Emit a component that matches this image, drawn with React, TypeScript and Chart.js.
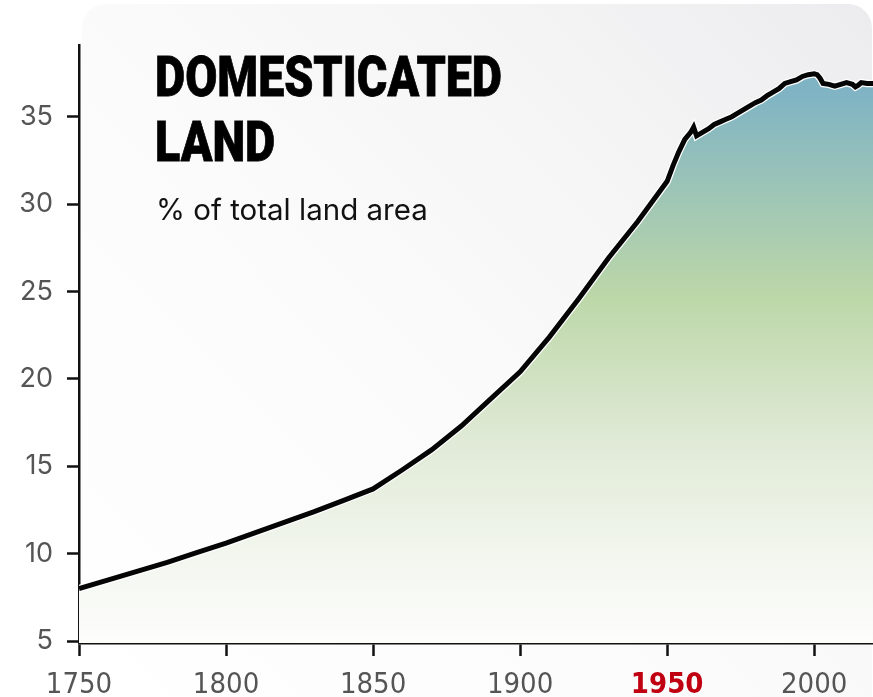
import React, { useEffect, useLayoutEffect, useRef } from "react";
import { Chart, registerables } from "chart.js";

Chart.register(...registerables);

const years = [
  1750, 1760, 1770, 1780, 1790, 1800, 1810, 1820, 1830, 1840, 1850, 1860, 1870,
  1880, 1890, 1900, 1910, 1920, 1930, 1940, 1950, 1952, 1954, 1956, 1958, 1959,
  1960, 1962, 1964, 1966, 1968, 1970, 1972, 1974, 1976, 1978, 1980, 1982, 1984,
  1986, 1988, 1990, 1992, 1994, 1996, 1998, 2000, 2001, 2002, 2003, 2005, 2007,
  2009, 2011, 2013, 2014, 2015, 2016, 2018, 2020,
];
const landShare = [
  8.0, 8.5, 9.0, 9.5, 10.05, 10.6, 11.2, 11.8, 12.4, 13.05, 13.7, 14.8, 15.95,
  17.3, 18.85, 20.4, 22.4, 24.6, 26.9, 29.0, 31.3, 32.2, 33.0, 33.7, 34.1, 34.4,
  33.9, 34.1, 34.3, 34.55, 34.7, 34.85, 35.0, 35.2, 35.4, 35.6, 35.8, 35.95, 36.2,
  36.4, 36.6, 36.9, 37.0, 37.1, 37.3, 37.4, 37.45, 37.4, 37.2, 36.9, 36.85, 36.75,
  36.85, 36.95, 36.85, 36.7, 36.8, 36.95, 36.9, 36.9,
];
const xTickYears = [1750, 1800, 1850, 1900, 1950, 2000];
const yTickValues = [5, 10, 15, 20, 25, 30, 35];
const highlightYear = 1950;
const titleLines = ["DOMESTICATED", "LAND"];
const subtitle = "% of total land area";

export default function App() {
  const canvasRef = useRef<HTMLCanvasElement>(null);
  const titleRef = useRef<HTMLDivElement>(null);
  const firstLineRef = useRef<HTMLSpanElement>(null);

  useLayoutEffect(() => {
    const t = titleRef.current;
    const f = firstLineRef.current;
    if (t && f) {
      const w = f.getBoundingClientRect().width;
      if (w > 0) t.style.transform = `scaleX(${347 / w})`;
    }
  }, []);

  useEffect(() => {
    document.body.style.margin = "0";
    const canvas = canvasRef.current;
    if (!canvas) return;
    const points = years.map((yr, i) => ({ x: yr, y: landShare[i] }));

    const chart = new Chart(canvas, {
      type: "line",
      data: {
        datasets: [
          {
            data: points,
            fill: false,
            borderColor: "#050505",
            borderWidth: 5,
            pointRadius: 0,
            tension: 0,
          },
          {
            data: points,
            fill: "start",
            borderColor: "#ffffff",
            borderWidth: 7.5,
            pointRadius: 0,
            tension: 0,
            backgroundColor: (c: any) => {
              const { ctx, chartArea } = c.chart;
              if (!chartArea) return "rgba(0,0,0,0)";
              const g = ctx.createLinearGradient(0, chartArea.top, 0, chartArea.bottom);
              g.addColorStop(0, "#7cb2c7");
              g.addColorStop(0.08, "#80b4c4");
              g.addColorStop(0.42, "#bcd7a8");
              g.addColorStop(0.66, "#e0ead6");
              g.addColorStop(0.85, "#f2f6ee");
              g.addColorStop(1, "#fdfdfc");
              return g;
            },
          },
        ],
      },
      options: {
        animation: false,
        responsive: false,
        maintainAspectRatio: false,
        layout: { padding: { top: 45, left: 0, right: 0, bottom: 0 } },
        plugins: { legend: { display: false }, tooltip: { enabled: false } },
        scales: {
          x: {
            type: "linear",
            min: 1750,
            max: 2020,
            afterBuildTicks: (s: any) => {
              s.ticks = xTickYears.map((v) => ({ value: v }));
            },
            afterFit: (s: any) => {
              s.height = 54;
            },
            border: { display: true, color: "#111", width: 2.5 },
            grid: {
              display: true,
              drawOnChartArea: false,
              drawTicks: true,
              tickLength: 13,
              tickColor: "#111",
              tickWidth: 2.5,
            },
            ticks: {
              padding: 12,
              maxRotation: 0,
              autoSkip: false,
              callback: (v: any) => String(v),
              color: (c: any) => (c.tick && c.tick.value === highlightYear ? "#c00010" : "#555555"),
              font: (c: any) => ({
                family: '"DejaVu Sans Condensed", sans-serif',
                size: 29,
                weight: c.tick && c.tick.value === highlightYear ? "bold" : "normal",
              }),
            },
          },
          y: {
            type: "linear",
            min: 4.886,
            max: 39.1,
            afterBuildTicks: (s: any) => {
              s.ticks = yTickValues.map((v) => ({ value: v }));
            },
            afterFit: (s: any) => {
              s.width = 79;
            },
            border: { display: true, color: "#111", width: 2.5 },
            grid: {
              display: true,
              drawOnChartArea: false,
              drawTicks: true,
              tickLength: 12,
              tickColor: "#111",
              tickWidth: 2.5,
            },
            ticks: {
              padding: 14,
              color: "#555555",
              font: { family: "Inter, sans-serif", size: 27 },
              callback: (v: any) => String(v),
            },
          },
        },
      },
    });
    return () => chart.destroy();
  }, []);

  return (
    <div style={{ position: "absolute", left: 0, top: 0, width: 873, height: 697, overflow: "hidden", background: "#ffffff" }}>
      <div
        style={{
          position: "absolute",
          left: 82,
          top: 4,
          width: 790,
          height: 720,
          borderRadius: 24,
          background: "linear-gradient(225deg, #ececee 0%, #f5f5f6 28%, #fbfbfb 55%, #ffffff 100%)",
        }}
      />
      <canvas ref={canvasRef} width={873} height={697} style={{ position: "absolute", left: 0, top: 0, width: 873, height: 697 }} />
      <div
        ref={titleRef}
        style={{
          position: "absolute",
          left: 155,
          top: 45,
          transformOrigin: "0 0",
          fontFamily: 'Roboto, "DejaVu Sans Condensed", sans-serif',
          fontWeight: 900,
          fontSize: 56,
          lineHeight: "65px",
          color: "#000",
          WebkitTextStroke: "0.8px #000",
          whiteSpace: "nowrap",
        }}
      >
        {titleLines.map((t, i) => (
          <div key={t}>
            <span ref={i === 0 ? firstLineRef : undefined}>{t}</span>
          </div>
        ))}
      </div>
      <div
        style={{
          position: "absolute",
          left: 156,
          top: 189,
          fontFamily: "Inter, sans-serif",
          fontSize: 29.5,
          lineHeight: "40px",
          color: "#111",
          whiteSpace: "nowrap",
        }}
      >
        {subtitle}
      </div>
    </div>
  );
}
